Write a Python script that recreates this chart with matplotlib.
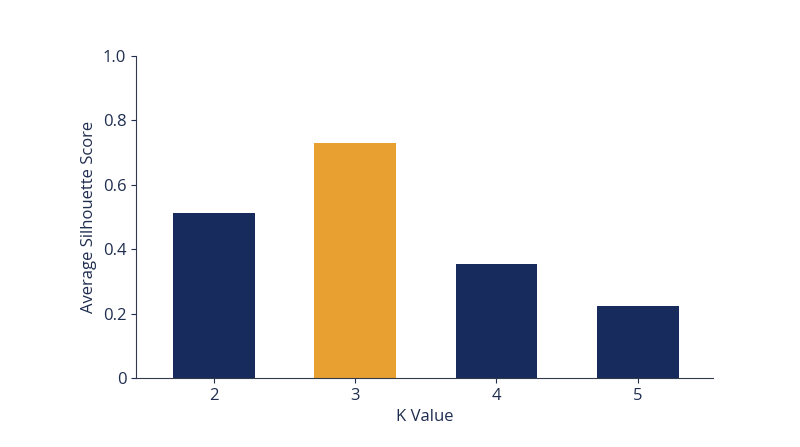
import matplotlib
matplotlib.use("Agg")
import matplotlib.pyplot as plt

k_values = [2, 3, 4, 5]
scores = [0.512, 0.730, 0.354, 0.224]
colors = ["#172b5c", "#e8a030", "#172b5c", "#172b5c"]

plt.rcParams['font.family'] = ['Open Sans', 'DejaVu Sans']
fig = plt.figure(figsize=(8, 4.47), dpi=100)
ax = fig.add_axes([0.17, 0.154, 0.721, 0.721])
ax.bar(k_values, scores, width=0.58, color=colors)
ax.set_xlim(1.45, 5.53)
ax.set_ylim(0, 1.0)
ax.set_xticks(k_values)
ax.set_yticks([0, 0.2, 0.4, 0.6, 0.8, 1.0])
ax.set_yticklabels(["0", "0.2", "0.4", "0.6", "0.8", "1.0"])
txt = "#1f2d4f"
for s in ["top", "right"]:
    ax.spines[s].set_visible(False)
for s in ["left", "bottom"]:
    ax.spines[s].set_color("#333a4a")
ax.tick_params(colors=txt, labelsize=12)
ax.set_xlabel("K Value", fontsize=12, color=txt)
ax.set_ylabel("Average Silhouette Score", fontsize=12, color=txt)
fig.savefig("out.png", dpi=100, facecolor="white")
